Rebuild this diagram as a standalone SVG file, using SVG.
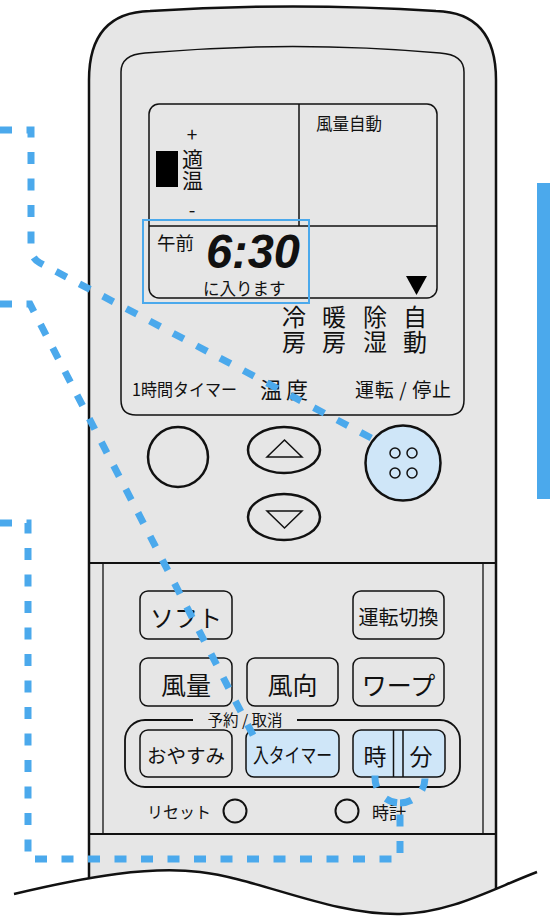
<svg xmlns="http://www.w3.org/2000/svg" width="550" height="916" viewBox="0 0 550 916">
<style>
.t{font-family:"Noto Sans CJK JP","Noto Sans",sans-serif;fill:#111;dominant-baseline:central}
.v{font-family:"Noto Sans CJK JP","Noto Sans",sans-serif;fill:#111;writing-mode:vertical-rl}
.m{text-anchor:middle}
.ln{fill:none;stroke:#111}
.btn{fill:#e6e6e6;stroke:#111;stroke-width:1.5}
.hb{fill:#cfe6f8;stroke:#111;stroke-width:1.5}
.dash{fill:none;stroke:#4ba9ec;stroke-width:7;stroke-dasharray:12 14.5}
</style>
<g id="body">
<path d="M89,916 V80 C89,35 110,12 150,11 Q293,2 436,11 C476,12 496,35 496,80 V916" fill="#e6e6e6" stroke="#111" stroke-width="2.5"/>
<path class="ln" stroke-width="1.5" d="M121,400 V72 C121,60 130,54 145,53 Q293,40 440,53 C455,54 464,60 464,72 V400 Q464,415 449,415 H136 Q121,415 121,400 Z"/>
<line class="ln" stroke-width="2" x1="89" y1="563" x2="496" y2="563"/>
<line class="ln" stroke-width="2" x1="89" y1="834" x2="496" y2="834"/>
<line class="ln" stroke-width="1.3" x1="103" y1="563" x2="103" y2="834"/>
<line class="ln" stroke-width="1.3" x1="483" y1="563" x2="483" y2="834"/>
<path d="M14,894 C90,876 150,866 200,872 C260,879 330,915 400,914 C450,913 490,890 537,872 V916 H0 V894 Z" fill="#fff"/>
<path class="ln" stroke-width="2.5" d="M14,894 C90,876 150,866 200,872 C260,879 330,915 400,914 C450,913 490,890 537,872"/>
</g>
<g id="lcd">
<rect class="ln" stroke-width="1.5" x="149" y="104" width="288" height="194" rx="10"/>
<line class="ln" stroke-width="1.5" x1="299" y1="104" x2="299" y2="226"/>
<line class="ln" stroke-width="1.5" x1="149" y1="226" x2="437" y2="226"/>
<text class="t m" x="192" y="133" font-size="19">+</text>
<rect x="156" y="151" width="22" height="36" fill="#000"/>
<text class="v" x="192.5" y="148.5" font-size="21">適温</text>
<text class="t m" x="192" y="208" font-size="19">-</text>
<text class="t" x="316" y="123" font-size="16.5">風量自動</text>
<text class="t" x="157" y="242" font-size="18.5">午前</text>
<text x="206" y="268" font-family="Liberation Sans,sans-serif" font-size="48" font-weight="bold" font-style="italic" fill="#111" textLength="94" lengthAdjust="spacingAndGlyphs">6:30</text>
<text class="t" x="203" y="288" font-size="16.5">に入ります</text>
<polygon points="406,276 427,276 416.5,295" fill="#000"/>
<rect x="143" y="220" width="166" height="83" fill="none" stroke="#4ba9ec" stroke-width="2"/>
</g>
<g id="modes">
<text class="v" x="294" y="305" font-size="24" letter-spacing="1">冷房</text>
<text class="v" x="334" y="305" font-size="24" letter-spacing="1">暖房</text>
<text class="v" x="375" y="305" font-size="24" letter-spacing="1">除湿</text>
<text class="v" x="415" y="305" font-size="24" letter-spacing="1">自動</text>
<text class="t" x="132" y="388" font-size="17" textLength="105" lengthAdjust="spacingAndGlyphs">1時間タイマー</text>
<text class="t" x="260" y="388" font-size="22" textLength="48">温度</text>
<text class="t" x="355" y="388" font-size="19" textLength="96">運転 / 停止</text>
</g>
<g id="btn-timer1">
<circle cx="178" cy="457" r="30" fill="none" stroke="#111" stroke-width="2.5"/>
</g>
<g id="btn-up">
<ellipse cx="284" cy="450" rx="36" ry="23" fill="none" stroke="#111" stroke-width="2.5"/>
<polygon points="267,457 302,457 284.5,440" fill="none" stroke="#111" stroke-width="1.5"/>
</g>
<g id="btn-down">
<ellipse cx="284" cy="517" rx="36" ry="23" fill="none" stroke="#111" stroke-width="2.5"/>
<polygon points="267,511 302,511 284.5,528" fill="none" stroke="#111" stroke-width="1.5"/>
</g>
<g id="btn-power">
<circle cx="403" cy="463" r="37.5" fill="#cfe6f8" stroke="#111" stroke-width="2.5"/>
<g fill="none" stroke="#111" stroke-width="1.5">
<circle cx="395" cy="453" r="5"/><circle cx="412" cy="453" r="5"/>
<circle cx="395" cy="473" r="5"/><circle cx="412" cy="473" r="5"/>
</g>
</g>
<g id="btn-soft"><rect class="btn" x="140" y="591" width="92" height="48" rx="8"/><text class="t m" x="186" y="616" font-size="24">ソフト</text></g>
<g id="btn-mode"><rect class="btn" x="353" y="591" width="91" height="48" rx="8"/><text class="t m" x="398.5" y="616" font-size="20">運転切換</text></g>
<g id="btn-fan"><rect class="btn" x="140" y="658" width="92" height="48" rx="8"/><text class="t m" x="186" y="684" font-size="25">風量</text></g>
<g id="btn-dir"><rect class="btn" x="247" y="658" width="91" height="48" rx="8"/><text class="t m" x="292.5" y="684" font-size="25">風向</text></g>
<g id="btn-warp"><rect class="btn" x="353" y="658" width="91" height="48" rx="8"/><text class="t m" x="398.5" y="684" font-size="25">ワープ</text></g>
<g id="reserve">
<rect x="125" y="720" width="335" height="67" rx="20" fill="none" stroke="#111" stroke-width="1.8"/>
<rect x="193" y="712" width="104" height="14" fill="#e6e6e6"/>
<text class="t m" x="245" y="719" font-size="15.5">予約 / 取消</text>
</g>
<g id="btn-sleep"><rect class="btn" x="140" y="730" width="92" height="47" rx="8"/><text class="t m" x="186" y="754" font-size="19.5">おやすみ</text></g>
<g id="btn-ontimer"><rect class="hb" x="246" y="730" width="93" height="47" rx="8"/><text class="t m" x="292.5" y="754" font-size="20" textLength="79" lengthAdjust="spacingAndGlyphs">入タイマー</text></g>
<g id="btn-hm">
<rect class="hb" x="353" y="730" width="92" height="47" rx="8"/>
<line class="ln" stroke-width="1.5" x1="393.5" y1="730" x2="393.5" y2="777"/>
<line class="ln" stroke-width="1.5" x1="403" y1="730" x2="403" y2="777"/>
<text class="t m" x="375" y="755" font-size="23">時</text>
<text class="t m" x="421" y="755" font-size="23">分</text>
</g>
<g id="reset"><text class="t" x="147" y="811" font-size="16">リセット</text><circle cx="235" cy="811" r="11.5" fill="none" stroke="#111" stroke-width="2"/></g>
<g id="clock"><circle cx="347" cy="811" r="11.5" fill="none" stroke="#111" stroke-width="2"/><text class="t" x="372" y="811" font-size="17">時計</text></g>
<rect id="bar" x="537" y="183" width="13" height="316" fill="#4ba9ec"/>
<g id="connectors">
<path class="dash" d="M0,130 H31 V248 Q31,258 40,263 L375,440"/>
<path class="dash" d="M0,304 H30 L254,737"/>
<path class="dash" d="M0,523 H28 V859 H400 V803 A25,25 0 0 1 375,778 V772"/>
<path class="dash" d="M400,803 A25,25 0 0 0 425,778 V772"/>
</g>
</svg>
